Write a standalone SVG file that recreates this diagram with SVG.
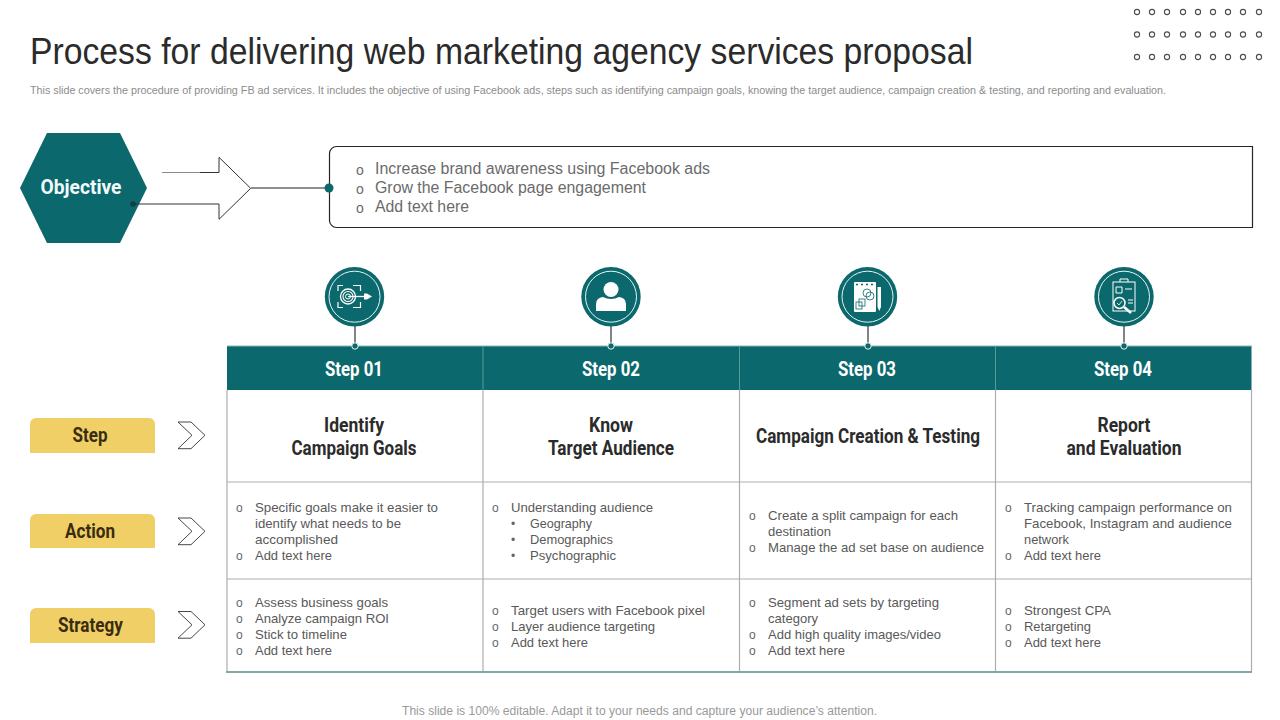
<svg xmlns="http://www.w3.org/2000/svg" width="1280" height="720" viewBox="0 0 1280 720">
<style>
text{font-family:"Liberation Sans",Arial,sans-serif}
.title{font-size:36px;fill:#2b2b2b}
.sub{font-size:10px;fill:#8c8c8c}
.foot{font-size:12px;fill:#999}
.hd,.h2,.lb{font-family:Roboto,"Liberation Sans",sans-serif;font-weight:700;font-size:20px;text-anchor:middle}
.hd{fill:#fff}
.h2{fill:#2b2b2b}
.lb{fill:#3a2c10}
.b{font-size:13px;fill:#595959}
.o{font-size:16px;fill:#6b6b6b}
.m{font-size:14px;fill:#6b6b6b}
.ob{font-size:12px;fill:#666}
.dot{fill:none;stroke:#4d4d4d;stroke-width:1.1}
.ln{fill:none;stroke:#1f1f1f;stroke-width:1.1}
.ar{fill:#fff;stroke:#333;stroke-width:.9}
.grid{stroke:#adadad;stroke-width:1.2;fill:none}
.ic{fill:#fff}
.icl{fill:none;stroke:#fff;stroke-width:1}
.tag{fill:#f0d066}
.disc{fill:#0b686c}
.ring{fill:none;stroke:#e6f4f4;stroke-width:1}
</style>
<defs>
<path id="chev" class="ar" d="M178 422H191L205 435.300L191 448.700H178L192 435.300Z"/>
<circle id="d" class="dot" r="2.600"/>
</defs>
<text class="title" x="30" y="63.500" textLength="943" lengthAdjust="spacingAndGlyphs">Process for delivering web marketing agency services proposal</text>
<text class="sub" x="30" y="94" textLength="1136" lengthAdjust="spacingAndGlyphs">This slide covers the procedure of providing FB ad services. It includes the objective of using Facebook ads, steps such as identifying campaign goals, knowing the target audience, campaign creation &amp; testing, and reporting and evaluation.</text>
<g id="dots">
<use href="#d" x="1137" y="12"/><use href="#d" x="1152" y="12"/><use href="#d" x="1167" y="12"/><use href="#d" x="1183" y="12"/><use href="#d" x="1198" y="12"/><use href="#d" x="1213" y="12"/><use href="#d" x="1228" y="12"/><use href="#d" x="1243" y="12"/><use href="#d" x="1259" y="12"/>
<use href="#d" x="1137" y="34.500"/><use href="#d" x="1152" y="34.500"/><use href="#d" x="1167" y="34.500"/><use href="#d" x="1183" y="34.500"/><use href="#d" x="1198" y="34.500"/><use href="#d" x="1213" y="34.500"/><use href="#d" x="1228" y="34.500"/><use href="#d" x="1243" y="34.500"/><use href="#d" x="1259" y="34.500"/>
<use href="#d" x="1137" y="57"/><use href="#d" x="1152" y="57"/><use href="#d" x="1167" y="57"/><use href="#d" x="1183" y="57"/><use href="#d" x="1198" y="57"/><use href="#d" x="1213" y="57"/><use href="#d" x="1228" y="57"/><use href="#d" x="1243" y="57"/><use href="#d" x="1259" y="57"/>
</g>
<g id="objective">
<path d="M47 133H120L147 188L120 243H47L20 188Z" fill="#0b686c"/>
<text x="81" y="194" font-size="20" font-weight="700" fill="#f2fbfb" text-anchor="middle" textLength="81" lengthAdjust="spacingAndGlyphs" style="font-family:Roboto,sans-serif">Objective</text>
</g>
<g id="objective-box">
<path d="M1252.500 146.500H336.500a7 7 0 0 0-7 7V220.500a7 7 0 0 0 7 7H1252.500Z" fill="#fff" stroke="#262626" stroke-width="1.200"/>
<text class="m" x="356" y="175">o</text><text class="o" x="375" y="174" textLength="335" lengthAdjust="spacingAndGlyphs">Increase brand awareness using Facebook ads</text>
<text class="m" x="356" y="194">o</text><text class="o" x="375" y="193" textLength="271" lengthAdjust="spacingAndGlyphs">Grow the Facebook page engagement</text>
<text class="m" x="356" y="213">o</text><text class="o" x="375" y="212" textLength="94" lengthAdjust="spacingAndGlyphs">Add text here</text>
</g>
<g id="table">
<rect x="227" y="346" width="1024.500" height="44" fill="#0b686c"/>
<path class="grid" d="M227 390V672M483 390V672M739.500 390V672M995.500 390V672M1251.500 390V672M227 482H1252M227 579H1252"/>
<path d="M483 347V390M739.500 347V390M995.500 347V390" stroke="#5f9799" stroke-width="1"/>
<path d="M226 672H1252" stroke="#7fa8a8" stroke-width="2"/>
<path d="M227 346H1252" stroke="#8fb5b7" stroke-width="1"/>
</g>
<g id="connectors">
<path d="M162 172.500H219V157.300L250.700 188.300L219 219.300V204H133" fill="none" stroke="#333" stroke-width="1"/>
<path d="M162 172.500H200" stroke="#8a8a8a" stroke-width="1.200"/>
<path d="M251 188H329" class="ln"/>
<circle cx="329" cy="188" r="4.500" fill="#0b686c"/>
<circle cx="133" cy="204" r="2.800" fill="#123f42"/>
<path d="M355 325V346M611 325V346M868 325V346M1124 325V346" class="ln"/>
<g fill="#0b686c" stroke="#e6f4f4" stroke-width="1">
<circle cx="355" cy="346" r="3.200"/><circle cx="611" cy="346" r="3.200"/><circle cx="868" cy="346" r="3.200"/><circle cx="1124" cy="346" r="3.200"/>
</g>
<use href="#chev"/>
<use href="#chev" y="96"/>
<use href="#chev" y="189.500"/>
</g>
<g id="label-step"><path class="tag" d="M30 453V424a6 6 0 0 1 6-6H149a6 6 0 0 1 6 6V453Z"/><text class="lb" x="90" y="441.500" textLength="35" lengthAdjust="spacingAndGlyphs">Step</text></g>
<g id="label-action"><path class="tag" d="M30 548V520a6 6 0 0 1 6-6H149a6 6 0 0 1 6 6V548Z"/><text class="lb" x="90" y="537.500" textLength="50" lengthAdjust="spacingAndGlyphs">Action</text></g>
<g id="label-strategy"><path class="tag" d="M30 643V614a6 6 0 0 1 6-6H149a6 6 0 0 1 6 6V643Z"/><text class="lb" x="90.500" y="631.500" textLength="65" lengthAdjust="spacingAndGlyphs">Strategy</text></g>
<g id="icon-1">
<circle class="disc" cx="354.500" cy="296.700" r="29.700"/><circle class="ring" cx="354.500" cy="296.700" r="25.500"/>
<g class="icl"><circle cx="348" cy="296.500" r="7.500" stroke-width="1.300"/><circle cx="348" cy="296.500" r="5" stroke-width="1.100"/><circle cx="348" cy="296.500" r="2.500"/>
<path d="M338 291V285.500H343M353 285.500H360.500V291M338 302V307.500H343M353 307.500H360.500V302" stroke-width="1.200"/><path d="M348 296.500H370" stroke-width="1.300"/></g>
<path class="ic" d="M364 293.500l3 0l5 3l-5 3l-3 0Z"/>
</g>
<g id="icon-2">
<circle class="disc" cx="611" cy="296.700" r="29.700"/><circle class="ring" cx="611" cy="296.700" r="25.500"/>
<circle class="ic" cx="611" cy="289.500" r="7.500"/><path class="ic" d="M596 311V304q0-6 7-7q8 4 16 0q7 1 7 7V311Z"/>
</g>
<g id="icon-3">
<circle class="disc" cx="867.500" cy="296.700" r="29.700"/><circle class="ring" cx="867.500" cy="296.700" r="25.500"/>
<rect class="ic" x="854" y="282" width="22" height="30" rx="1"/><path class="ic" d="M877.500 287h3.500v20l-1.700 4-1.800-4Z"/>
<g fill="none" stroke="#0b686c" stroke-width=".8"><path d="M856 284.500h18" stroke-dasharray="2 3" stroke-width="1.500"/><rect x="856" y="302" width="6" height="7"/><rect x="859" y="299" width="6" height="7"/><circle cx="867" cy="293" r="4"/><circle cx="870" cy="296" r="4"/></g>
</g>
<g id="icon-4">
<circle class="disc" cx="1124" cy="296.700" r="29.700"/><circle class="ring" cx="1124" cy="296.700" r="25.500"/>
<g class="icl"><rect x="1113" y="282" width="22" height="29"/><path d="M1120 282v-3h8v3M1116 287h6v6h-6ZM1125 289h7M1128 300h5M1128 303h5"/><circle cx="1119.500" cy="303" r="5.500" fill="#0b686c" stroke-width="1.500"/><path d="M1117 303l2 2 3-4" stroke-width=".8"/></g>
<path d="M1124 307l7 6" stroke="#fff" stroke-width="2.500"/>
</g>
<g id="headers">
<text class="hd" x="354" y="375.500" textLength="58" lengthAdjust="spacingAndGlyphs">Step 01</text>
<text class="hd" x="611" y="375.500" textLength="58" lengthAdjust="spacingAndGlyphs">Step 02</text>
<text class="hd" x="867" y="375.500" textLength="58" lengthAdjust="spacingAndGlyphs">Step 03</text>
<text class="hd" x="1123" y="375.500" textLength="58" lengthAdjust="spacingAndGlyphs">Step 04</text>
<text class="h2" x="354" y="431.500" textLength="60" lengthAdjust="spacingAndGlyphs">Identify</text>
<text class="h2" x="354" y="454.500" textLength="125" lengthAdjust="spacingAndGlyphs">Campaign Goals</text>
<text class="h2" x="611" y="431.500" textLength="44" lengthAdjust="spacingAndGlyphs">Know</text>
<text class="h2" x="611" y="454.500" textLength="126" lengthAdjust="spacingAndGlyphs">Target Audience</text>
<text class="h2" x="868" y="442.500" textLength="224" lengthAdjust="spacingAndGlyphs">Campaign Creation &amp; Testing</text>
<text class="h2" x="1124" y="431.500" textLength="53" lengthAdjust="spacingAndGlyphs">Report</text>
<text class="h2" x="1124" y="454.500" textLength="115" lengthAdjust="spacingAndGlyphs">and Evaluation</text>
</g>
<g id="action-cells">
<text class="ob" x="236" y="512">o</text><text class="b" x="255" y="512" textLength="183" lengthAdjust="spacingAndGlyphs">Specific goals make it easier to</text>
<text class="b" x="255" y="528" textLength="146" lengthAdjust="spacingAndGlyphs">identify what needs to be</text>
<text class="b" x="255" y="544" textLength="83" lengthAdjust="spacingAndGlyphs">accomplished</text>
<text class="ob" x="236" y="560">o</text><text class="b" x="255" y="560" textLength="77" lengthAdjust="spacingAndGlyphs">Add text here</text>
<text class="ob" x="492" y="512">o</text><text class="b" x="511" y="512" textLength="142" lengthAdjust="spacingAndGlyphs">Understanding audience</text>
<text class="ob" x="511" y="528">•</text><text class="b" x="530" y="528" textLength="62" lengthAdjust="spacingAndGlyphs">Geography</text>
<text class="ob" x="511" y="544">•</text><text class="b" x="530" y="544" textLength="83" lengthAdjust="spacingAndGlyphs">Demographics</text>
<text class="ob" x="511" y="560">•</text><text class="b" x="530" y="560" textLength="86" lengthAdjust="spacingAndGlyphs">Psychographic</text>
<text class="ob" x="749" y="520">o</text><text class="b" x="768" y="520" textLength="190" lengthAdjust="spacingAndGlyphs">Create a split campaign for each</text>
<text class="b" x="768" y="536" textLength="63" lengthAdjust="spacingAndGlyphs">destination</text>
<text class="ob" x="749" y="552">o</text><text class="b" x="768" y="552" textLength="216" lengthAdjust="spacingAndGlyphs">Manage the ad set base on audience</text>
<text class="ob" x="1005" y="512">o</text><text class="b" x="1024" y="512" textLength="208" lengthAdjust="spacingAndGlyphs">Tracking campaign performance on</text>
<text class="b" x="1024" y="528" textLength="208" lengthAdjust="spacingAndGlyphs">Facebook, Instagram and audience</text>
<text class="b" x="1024" y="544" textLength="45" lengthAdjust="spacingAndGlyphs">network</text>
<text class="ob" x="1005" y="560">o</text><text class="b" x="1024" y="560" textLength="77" lengthAdjust="spacingAndGlyphs">Add text here</text>
</g>
<g id="strategy-cells">
<text class="ob" x="236" y="607">o</text><text class="b" x="255" y="607" textLength="133" lengthAdjust="spacingAndGlyphs">Assess business goals</text>
<text class="ob" x="236" y="623">o</text><text class="b" x="255" y="623" textLength="134" lengthAdjust="spacingAndGlyphs">Analyze campaign ROI</text>
<text class="ob" x="236" y="639">o</text><text class="b" x="255" y="639" textLength="92" lengthAdjust="spacingAndGlyphs">Stick to timeline</text>
<text class="ob" x="236" y="655">o</text><text class="b" x="255" y="655" textLength="77" lengthAdjust="spacingAndGlyphs">Add text here</text>
<text class="ob" x="492" y="615">o</text><text class="b" x="511" y="615" textLength="194" lengthAdjust="spacingAndGlyphs">Target users with Facebook pixel</text>
<text class="ob" x="492" y="631">o</text><text class="b" x="511" y="631" textLength="144" lengthAdjust="spacingAndGlyphs">Layer audience targeting</text>
<text class="ob" x="492" y="647">o</text><text class="b" x="511" y="647" textLength="77" lengthAdjust="spacingAndGlyphs">Add text here</text>
<text class="ob" x="749" y="607">o</text><text class="b" x="768" y="607" textLength="171" lengthAdjust="spacingAndGlyphs">Segment ad sets by targeting</text>
<text class="b" x="768" y="623" textLength="50" lengthAdjust="spacingAndGlyphs">category</text>
<text class="ob" x="749" y="639">o</text><text class="b" x="768" y="639" textLength="173" lengthAdjust="spacingAndGlyphs">Add high quality images/video</text>
<text class="ob" x="749" y="655">o</text><text class="b" x="768" y="655" textLength="77" lengthAdjust="spacingAndGlyphs">Add text here</text>
<text class="ob" x="1005" y="615">o</text><text class="b" x="1024" y="615" textLength="87" lengthAdjust="spacingAndGlyphs">Strongest CPA</text>
<text class="ob" x="1005" y="631">o</text><text class="b" x="1024" y="631" textLength="67" lengthAdjust="spacingAndGlyphs">Retargeting</text>
<text class="ob" x="1005" y="647">o</text><text class="b" x="1024" y="647" textLength="77" lengthAdjust="spacingAndGlyphs">Add text here</text>
</g>
<text class="foot" x="402" y="715" textLength="475" lengthAdjust="spacingAndGlyphs">This slide is 100% editable. Adapt it to your needs and capture your audience’s attention.</text>
</svg>
